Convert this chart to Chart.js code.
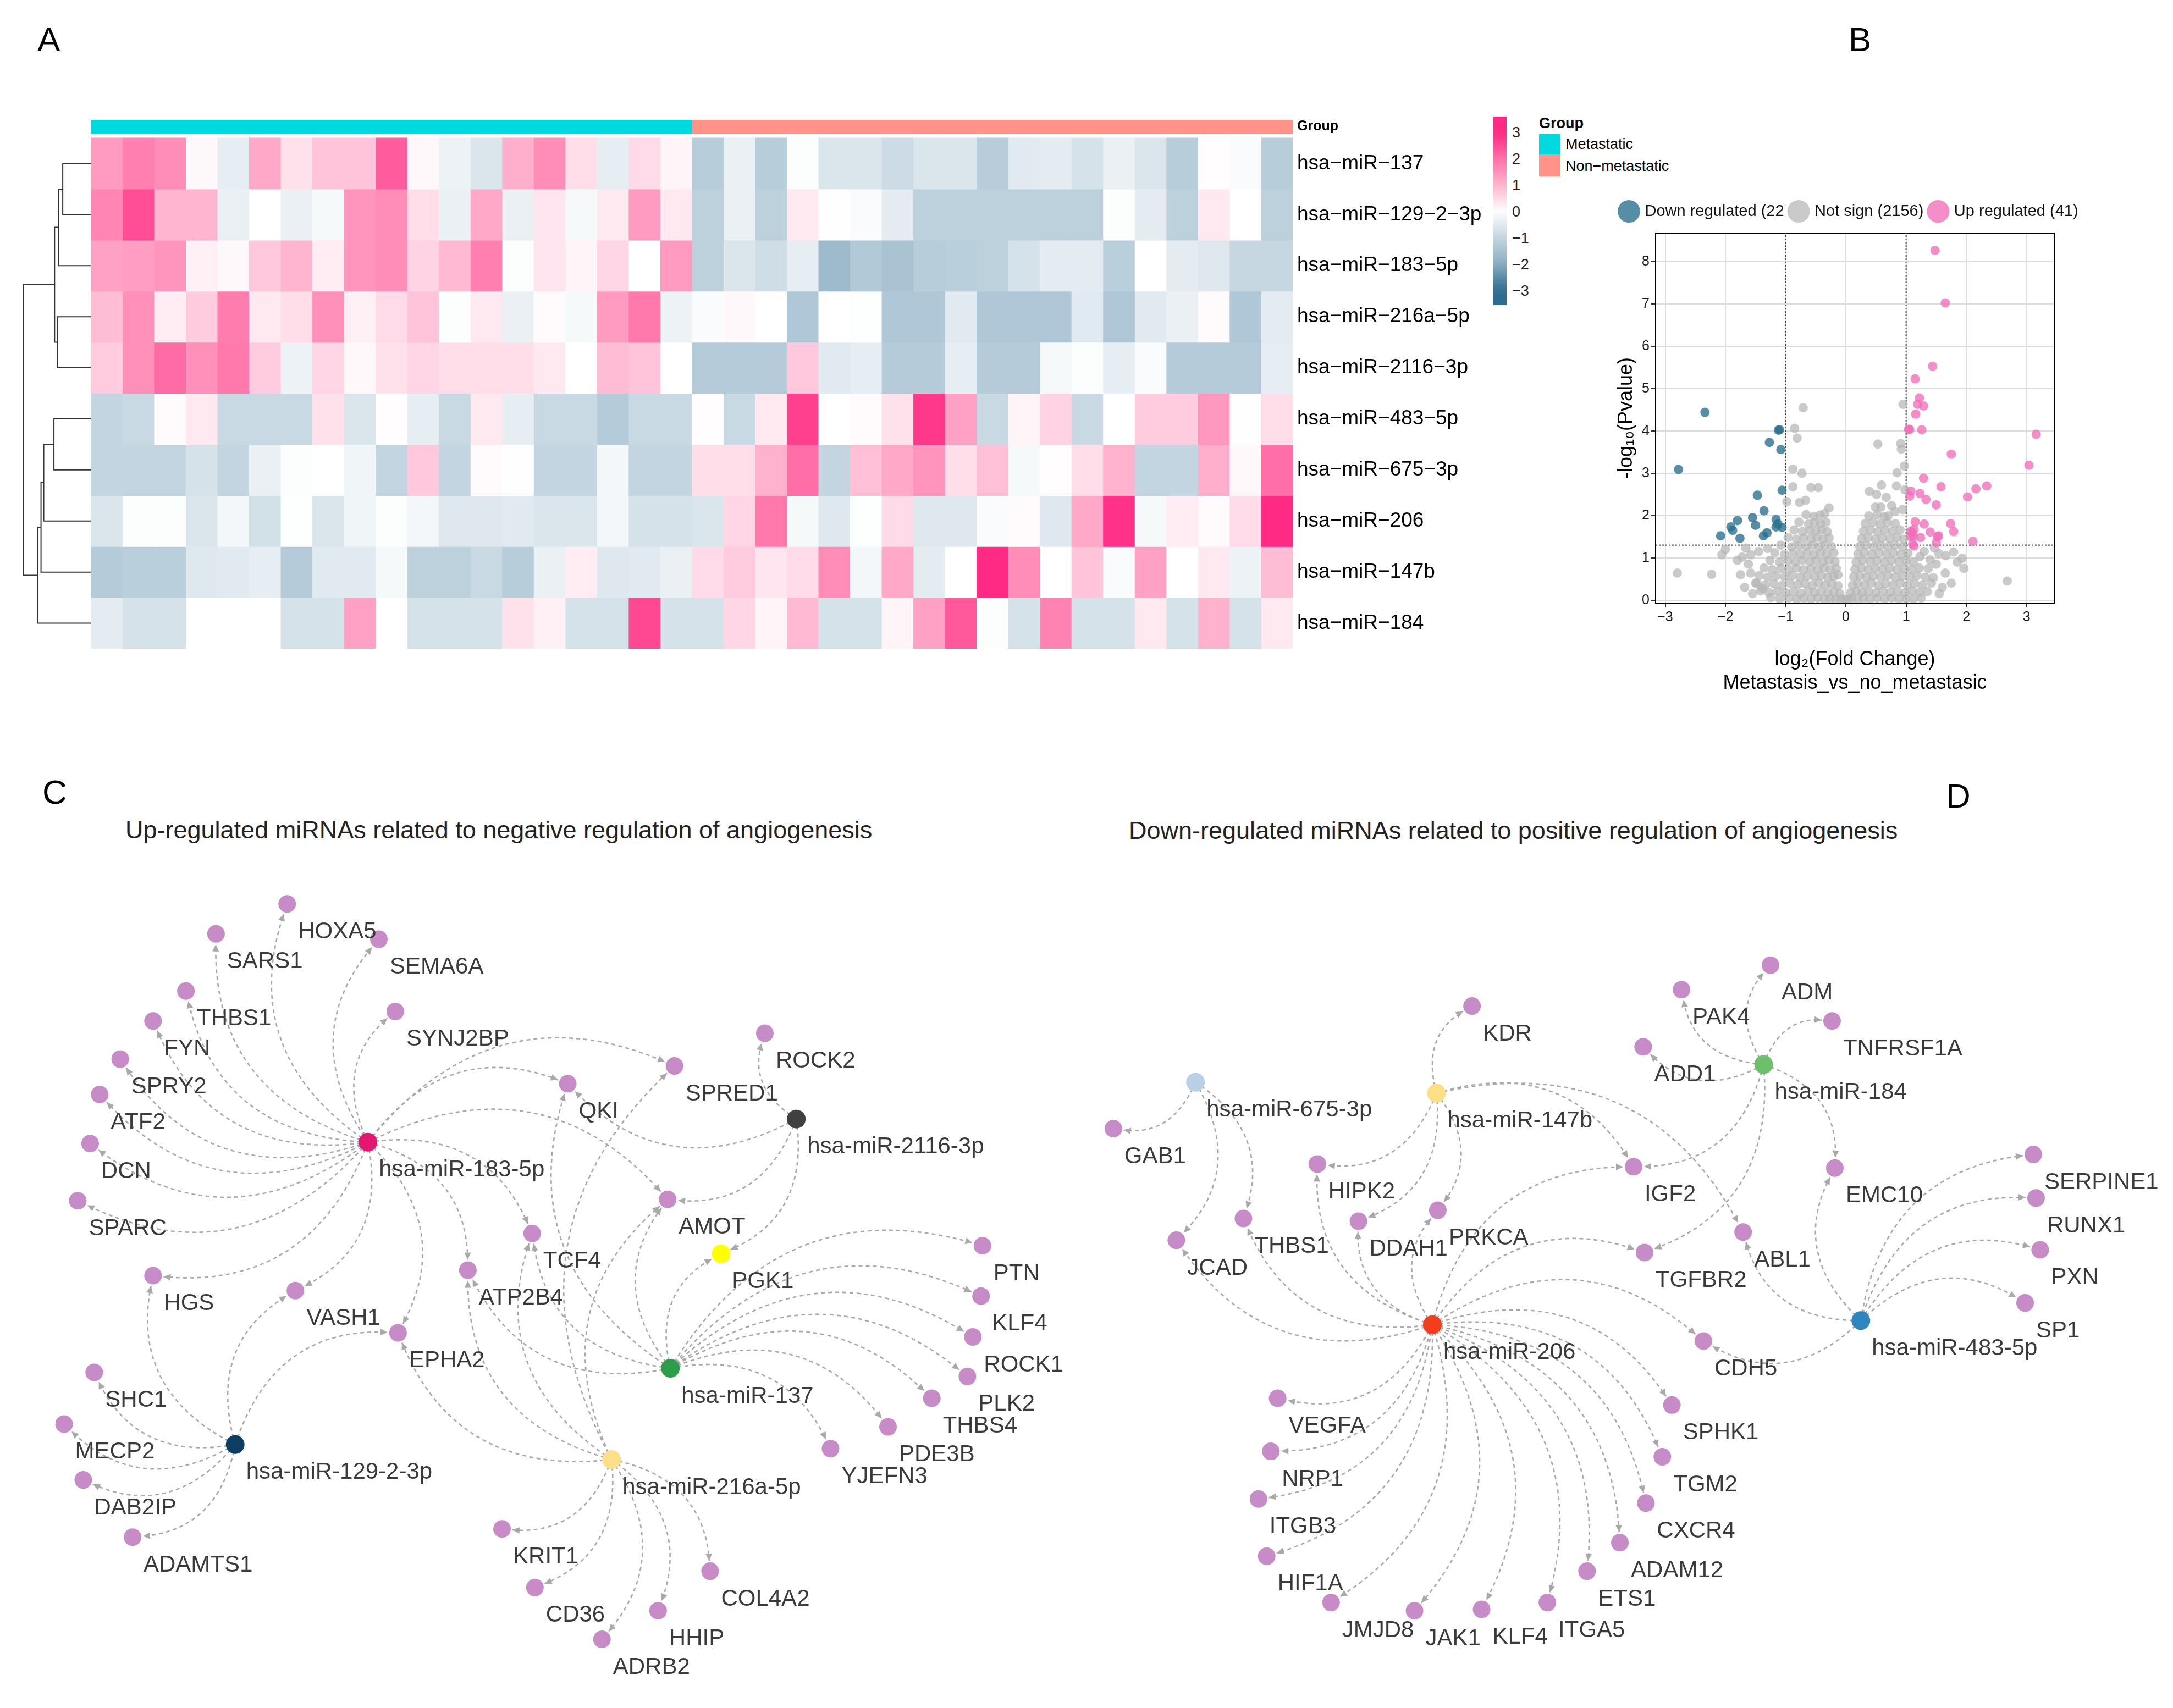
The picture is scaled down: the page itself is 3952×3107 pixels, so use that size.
<!DOCTYPE html>
<html>
<head>
<meta charset="utf-8">
<script src="https://cdn.jsdelivr.net/npm/chart.js@4.4.1/dist/chart.umd.min.js"></script>
<style>
  body { margin: 0; background: #fff; }
  #page { position: relative; width: 3952px; height: 3107px; overflow: hidden; background: #fff;
          font-family: "Liberation Sans", Arial, sans-serif; color: #000; }
  .txt { position: absolute; line-height: 1; white-space: nowrap; }
  canvas { position: absolute; }
</style>
</head>
<body>
<div id="page">
  <div class="txt" style="left:68px;top:41px;font-size:62px">A</div>
  <div class="txt" style="left:3362px;top:41px;font-size:62px">B</div>
  <div class="txt" style="left:77px;top:1410px;font-size:62px">C</div>
  <div class="txt" style="left:3539px;top:1417px;font-size:62px">D</div>

  <div class="txt" style="left:228px;top:1487px;font-size:45px;color:#222">Up-regulated miRNAs related to negative regulation of angiogenesis</div>
  <div class="txt" style="left:2053px;top:1488px;font-size:45px;color:#222">Down-regulated miRNAs related to positive regulation of angiogenesis</div>

  <canvas id="dendro" width="126" height="929" style="left:40px;top:251px;width:126px;height:929px"></canvas>
  <canvas id="heatmap" width="2546" height="962" style="left:166px;top:218px;width:2546px;height:962px"></canvas>

  <div id="colorbar" style="position:absolute;left:2716px;top:212px;width:24px;height:343px"></div>
  <div id="colorbarTicks"></div>

  <div class="txt" style="left:2799px;top:211px;font-size:27px;font-weight:bold">Group</div>
  <div style="position:absolute;left:2799px;top:244px;width:39px;height:37px;background:#00D9E0"></div>
  <div style="position:absolute;left:2799px;top:281px;width:39px;height:40px;background:#FF9389"></div>
  <div class="txt" style="left:2847px;top:249px;font-size:27px">Metastatic</div>
  <div class="txt" style="left:2847px;top:289px;font-size:27px">Non−metastatic</div>

  <canvas id="volcano" width="986" height="940" style="left:2914px;top:340px;width:986px;height:940px"></canvas>

  <canvas id="netC" width="1960" height="1547" style="left:0px;top:1560px;width:1960px;height:1547px"></canvas>
  <canvas id="netD" width="1992" height="1547" style="left:1960px;top:1560px;width:1992px;height:1547px"></canvas>
</div>

<script>
// ---------- A: heatmap ----------
const rowNames = ['hsa−miR−137', 'hsa−miR−129−2−3p', 'hsa−miR−183−5p', 'hsa−miR−216a−5p', 'hsa−miR−2116−3p',
                  'hsa−miR−483−5p', 'hsa−miR−675−3p', 'hsa−miR−206', 'hsa−miR−147b', 'hsa−miR−184'];
const sampleGroups = Array(19).fill('Metastatic').concat(Array(19).fill('Non−metastatic'));
const groupColors = { 'Metastatic': '#00D9E0', 'Non−metastatic': '#FF9389' };

// z-scores per row, 19 metastatic then 19 non-metastatic samples
const z137  = [1.4,1.8,1.6,0.1,-0.4,1.2,0.4,0.8,0.8,2.3,0.1,-0.3,-0.6,1.1,1.6,0.45,-0.4,0.5,0.15,
               -1.2,-0.35,-1.2,-0.05,-0.6,-0.6,-0.85,-0.6,-0.6,-1.2,-0.5,-0.45,-0.7,-0.35,-0.6,-1.2,0.03,-0.1,-1.2];
const z129  = [1.7,2.5,1.0,1.0,-0.35,0,-0.35,-0.15,1.5,1.6,0.45,-0.35,1.2,-0.35,0.35,-0.15,0.3,1.4,0.3,
               -1.1,-0.35,-1.1,0.3,0.02,-0.1,-0.45,-1.1,-1.1,-1.1,-1.1,-1.1,-1.1,-0.05,-0.45,-1.1,0.3,0,-1.1];
const z183  = [1.3,1.35,1.5,0.2,0.1,0.75,1.0,0.25,1.5,1.6,0.6,0.95,1.8,-0.05,0.35,0.15,0.55,0,1.4,
               -1.1,-0.6,-0.8,-0.4,-1.65,-1.3,-1.45,-1.2,-1.15,-1.1,-0.7,-0.45,-0.45,-1.15,0,-0.45,-0.55,-0.95,-0.95];
const z216a = [0.9,1.55,0.25,0.7,1.85,0.3,0.45,1.55,0.2,0.5,0.8,-0.05,0.3,-0.35,0.05,-0.15,1.4,1.9,-0.3,
               -0.1,0.1,0,-1.35,0,-0.03,-1.35,-1.35,-0.5,-1.35,-1.35,-1.35,-0.5,-1.35,-0.5,-0.35,0.07,-1.35,-0.45];
const z2116 = [0.7,1.55,2.1,1.55,1.9,0.7,-0.3,0.55,0.1,0.4,0.55,0.45,0.45,0.45,0.3,0,0.9,0.8,0,
               -1.25,-1.25,-1.25,0.75,-0.5,-0.4,-1.25,-1.25,-0.4,-1.25,-1.25,-0.15,-0.05,-0.4,-0.1,-1.25,-1.25,-1.25,-0.4];
const z483  = [-1.0,-0.9,0.05,0.3,-0.9,-0.9,-0.9,0.4,-0.6,0.03,-0.4,-0.9,0.3,-0.4,-0.9,-0.9,-1.25,-0.9,-0.9,
               0.03,-0.9,0.3,2.7,0,0.05,0.4,2.8,1.3,-0.9,0.15,0.6,-0.9,0,0.7,0.7,1.45,0.02,0.45];
const z675  = [-1.0,-1.0,-1.0,-0.7,-1.0,-0.35,-0.05,0,-0.25,-1.0,0.75,-1.0,0.05,0.02,-1.0,-1.0,-0.2,-1.0,-1.0,
               0.45,0.45,1.05,2.05,-1.0,0.85,1.2,1.5,0.45,0.85,-0.15,0.03,0.45,1.05,-1.0,-1.0,1.1,0.1,2.05];
const z206  = [-0.6,-0.05,-0.05,-0.6,-0.2,-0.75,-0.03,-0.6,-0.25,-0.05,-0.2,-0.55,-0.55,-0.5,-0.6,-0.6,-0.2,-0.7,-0.7,
               -0.6,0.55,1.9,-0.15,-0.55,-0.03,0.5,-0.55,-0.55,-0.1,0.05,-0.55,1.2,2.9,-0.15,0.25,0.07,0.5,3.2];
const z147b = [-1.25,-1.15,-1.15,-0.55,-0.5,-0.4,-1.25,-0.5,-0.5,-0.15,-1.1,-1.1,-0.9,-1.2,-0.35,0.25,-0.55,-0.5,-0.35,
               0.5,0.7,0.35,0.5,1.6,-0.2,1.2,-0.45,0,3.0,1.6,0,0.8,-0.1,1.3,0,0.3,-0.3,0.9];
const z184  = [-0.45,-0.7,-0.7,0,0,0,-0.7,-0.7,1.3,0,-0.7,-0.7,-0.7,0.4,0.2,-0.7,-0.7,2.6,-0.7,
               -0.7,0.55,0.15,0.95,-0.7,-0.7,0.15,1.3,2.35,-0.05,-0.7,1.75,-0.7,-0.7,0.3,-0.7,1.05,-0.7,0.3];
const zRows = [z137, z129, z183, z216a, z2116, z483, z675, z206, z147b, z184];

// hclust-style merges: negative = leaf row (1-based), positive = earlier merge
const dendroMerges  = [[-1,-2],[1,-3],[-4,-5],[2,3],[-6,-7],[5,-8],[6,-9],[7,-10],[4,8]];
const dendroHeights = [0.42, 0.48, 0.50, 0.54, 0.55, 0.70, 0.74, 0.79, 1.0];

const colorbarTicks = [3, 2, 1, 0, -1, -2, -3];

// ---------- B: volcano ----------
const downPts = [[-2.34,4.44],[-2.78,3.09],[-1.10,4.03],[-1.12,4.02],[-1.27,3.73],[-1.08,3.56],[-1.47,2.48],
  [-1.06,2.60],[-1.36,2.11],[-1.55,1.95],[-1.50,1.77],[-1.16,1.91],[-1.16,1.73],[-1.06,1.72],[-1.80,1.88],
  [-1.91,1.73],[-1.88,1.65],[-2.08,1.52],[-1.76,1.46],[-1.37,1.52],[-1.31,1.59],[-1.13,1.80]];
const upPts = [[1.48,8.27],[1.65,7.03],[1.44,5.53],[1.15,5.23],[1.22,4.78],[1.19,4.63],[1.29,4.59],[1.16,4.40],
  [1.04,4.04],[1.06,4.04],[1.26,4.03],[3.16,3.92],[1.75,3.45],[3.04,3.19],[1.29,2.88],[2.34,2.70],[1.58,2.68],
  [2.16,2.63],[1.08,2.58],[1.06,2.46],[1.23,2.52],[1.33,2.38],[2.02,2.44],[1.50,2.25],[1.15,1.85],[1.30,1.80],
  [1.74,1.81],[1.79,1.62],[1.40,1.61],[1.08,1.63],[1.13,1.67],[1.12,1.50],[1.24,1.48],[1.54,1.52],[1.52,1.50],
  [1.11,1.32],[1.13,1.28],[1.50,1.36],[2.11,1.39],[1.10,1.58],[1.08,1.50]];
const notSigPts = [
  // scattered upper points
  [-0.71,4.55],[-0.85,4.06],[-0.81,3.83],[-0.88,3.10],[-0.73,3.00],[-0.88,2.68],[-0.58,2.66],[-0.46,2.66],
  [-0.98,2.33],[-0.77,2.31],[-0.67,2.36],[-0.28,2.18],[-0.35,2.05],
  [0.95,4.63],[0.53,3.69],[0.91,3.70],[0.92,3.57],[0.97,3.17],[0.85,3.01],[0.59,2.72],[0.84,2.70],[0.98,2.61],
  [0.39,2.57],[0.51,2.50],[0.67,2.43],[0.76,2.23],[0.49,2.20],[0.58,2.20],[0.94,2.14],[0.70,1.99],[0.81,2.09],
  // scattered side points
  [-2.80,0.64],[-2.23,0.61],[-2.06,1.07],[-2.00,1.20],[-1.80,0.94],[-1.66,1.23],[-1.58,1.07],[-1.58,0.64],
  [-1.50,0.40],[-1.38,0.27],[-1.72,1.02],[-1.45,1.15],[-1.30,1.22],[-1.62,0.85],[-1.75,0.60],[-1.68,0.30],[-1.55,0.15],
  [1.65,0.64],[1.96,0.75],[1.93,0.99],[1.79,1.14],[1.66,1.05],[1.45,0.53],[1.54,1.10],[1.47,1.23],[1.23,1.03],
  [1.37,0.75],[2.68,0.45],[1.50,0.85],[1.60,0.30],[1.55,0.15],[1.40,0.95],[1.30,1.15],[1.75,0.40],[1.85,0.90],
  // left lobe
  [-1.25,0.06],[-1.1,0.03],[-0.95,0.05],[-0.82,0.02],[-0.7,0.04],[-0.58,0.02],[-0.47,0.05],[-0.36,0.02],[-0.26,0.04],[-0.17,0.02],[-0.08,0.03],[-0.02,0.01],
  [-1.42,0.22],[-1.28,0.18],[-1.14,0.21],[-1.0,0.17],[-0.87,0.2],[-0.75,0.16],[-0.63,0.21],[-0.52,0.18],[-0.41,0.2],[-0.3,0.17],[-0.2,0.19],[-0.1,0.15],
  [-1.48,0.4],[-1.34,0.36],[-1.2,0.39],[-1.06,0.35],[-0.93,0.4],[-0.8,0.37],[-0.68,0.39],[-0.56,0.35],[-0.45,0.4],[-0.34,0.36],[-0.23,0.38],[-0.13,0.34],
  [-1.44,0.58],[-1.3,0.54],[-1.16,0.57],[-1.02,0.55],[-0.89,0.58],[-0.76,0.54],[-0.64,0.57],[-0.52,0.55],[-0.41,0.58],[-0.3,0.54],[-0.2,0.56],[-0.13,0.6],
  [-1.36,0.76],[-1.22,0.72],[-1.08,0.75],[-0.95,0.73],[-0.82,0.76],[-0.7,0.72],[-0.58,0.75],[-0.47,0.73],[-0.36,0.76],[-0.26,0.72],[-0.16,0.75],
  [-1.26,0.94],[-1.1,0.9],[-0.96,0.93],[-0.84,0.9],[-0.72,0.94],[-0.6,0.91],[-0.49,0.93],[-0.38,0.9],[-0.28,0.94],[-0.18,0.91],
  [-1.18,1.12],[-1.02,1.08],[-0.88,1.11],[-0.76,1.09],[-0.64,1.12],[-0.53,1.08],[-0.42,1.11],[-0.32,1.09],[-0.2,1.12],
  [-1.08,1.3],[-0.9,1.26],[-0.78,1.29],[-0.66,1.27],[-0.55,1.3],[-0.45,1.26],[-0.35,1.29],[-0.24,1.27],
  [-0.96,1.48],[-0.82,1.44],[-0.7,1.47],[-0.58,1.45],[-0.48,1.48],[-0.38,1.44],[-0.28,1.47],
  [-0.86,1.66],[-0.72,1.62],[-0.6,1.65],[-0.5,1.63],[-0.4,1.66],[-0.31,1.62],
  [-0.78,1.84],[-0.62,1.8],[-0.52,1.83],[-0.42,1.81],[-0.33,1.84],
  [-0.66,2.02],[-0.53,1.98],[-0.43,2.01],
  // right lobe
  [0.03,0.02],[0.1,0.05],[0.19,0.02],[0.29,0.04],[0.4,0.02],[0.52,0.05],[0.64,0.03],[0.76,0.05],[0.88,0.02],[1.0,0.04],[1.12,0.02],[1.25,0.05],
  [0.08,0.17],[0.17,0.21],[0.27,0.18],[0.38,0.2],[0.5,0.17],[0.62,0.21],[0.74,0.18],[0.86,0.2],[0.98,0.17],[1.1,0.21],[1.22,0.18],[1.35,0.2],
  [0.11,0.35],[0.2,0.39],[0.31,0.36],[0.42,0.4],[0.54,0.35],[0.66,0.39],[0.78,0.36],[0.9,0.4],[1.02,0.35],[1.14,0.39],[1.27,0.36],[1.42,0.4],
  [0.13,0.55],[0.23,0.58],[0.34,0.54],[0.46,0.57],[0.58,0.55],[0.7,0.58],[0.82,0.54],[0.94,0.57],[1.06,0.55],[1.18,0.58],[1.32,0.54],
  [0.15,0.73],[0.26,0.76],[0.37,0.72],[0.49,0.75],[0.61,0.73],[0.73,0.76],[0.85,0.72],[0.97,0.75],[1.09,0.73],[1.22,0.76],
  [0.17,0.9],[0.28,0.94],[0.4,0.91],[0.52,0.93],[0.64,0.9],[0.76,0.94],[0.88,0.91],[1.0,0.93],[1.12,0.9],
  [0.2,1.09],[0.31,1.12],[0.43,1.08],[0.55,1.11],[0.67,1.09],[0.79,1.12],[0.91,1.08],[1.03,1.11],
  [0.23,1.27],[0.34,1.3],[0.46,1.26],[0.58,1.29],[0.7,1.27],[0.82,1.3],[0.94,1.26],
  [0.26,1.45],[0.37,1.48],[0.49,1.44],[0.61,1.47],[0.73,1.45],[0.85,1.48],[0.96,1.44],
  [0.29,1.63],[0.41,1.66],[0.53,1.62],[0.65,1.65],[0.77,1.63],[0.9,1.66],
  [0.32,1.81],[0.45,1.84],[0.57,1.8],[0.69,1.83],[0.82,1.81],
  [0.38,1.99],[0.52,2.02],[0.64,1.98]
];
const legendLabels = ['Down regulated (22', 'Not sign (2156)', 'Up regulated (41)'];
const fcCut = 1;
const pCut = 1.3;

// ---------- C / D: networks (layout units) ----------
const cNodes = ['hsa-miR-183-5p','hsa-miR-2116-3p','hsa-miR-137','hsa-miR-216a-5p','hsa-miR-129-2-3p','PGK1',
  'HOXA5','SARS1','SEMA6A','THBS1','SYNJ2BP','FYN','SPRY2','ATF2','DCN','SPARC',
  'QKI','SPRED1','ROCK2','AMOT','TCF4','ATP2B4','HGS','VASH1','EPHA2',
  'PTN','KLF4','ROCK1','PLK2','THBS4','PDE3B','YJEFN3','SHC1','MECP2','DAB2IP','ADAMTS1',
  'KRIT1','CD36','ADRB2','HHIP','COL4A2'];
const cNodeX = [262,575,483,440,165,520, 203,151,270,129,282,105,81,66,59,50, 408,486,552,481,382,335,105,209,284,
  711,710,704,700,674,642,600,62,40,54,90, 360,384,433,474,512];
const cNodeY = [818,801,984,1051,1040,900, 643,665,669,707,722,729,757,783,819,861, 775,762,738,860,885,912,916,927,958,
  894,931,961,990,1006,1027,1043,987,1025,1066,1108, 1102,1145,1183,1162,1133];
const cEdges = [
  ['hsa-miR-183-5p', ['HOXA5','SARS1','SEMA6A','THBS1','SYNJ2BP','FYN','SPRY2','ATF2','DCN','SPARC','QKI','SPRED1','AMOT','TCF4','ATP2B4','EPHA2','VASH1','HGS']],
  ['hsa-miR-2116-3p', ['ROCK2','QKI','AMOT','PGK1']],
  ['hsa-miR-137', ['PGK1','PTN','KLF4','ROCK1','PLK2','THBS4','PDE3B','YJEFN3','AMOT','TCF4','ATP2B4','QKI']],
  ['hsa-miR-216a-5p', ['KRIT1','CD36','ADRB2','HHIP','COL4A2','EPHA2','ATP2B4','TCF4','AMOT','SPRED1']],
  ['hsa-miR-129-2-3p', ['SHC1','MECP2','DAB2IP','ADAMTS1','HGS','VASH1','EPHA2']]
];

const dNodes = ['hsa-miR-675-3p','hsa-miR-147b','hsa-miR-184','hsa-miR-206','hsa-miR-483-5p',
  'GAB1','JCAD','THBS1','HIPK2','DDAH1','PRKCA','KDR','PAK4','ADM','TNFRSF1A','ADD1','IGF2','EMC10','ABL1','TGFBR2',
  'SERPINE1','RUNX1','PXN','SP1','CDH5','SPHK1','TGM2','CXCR4','ADAM12','ETS1','ITGA5','KLF4','JAK1','JMJD8',
  'HIF1A','ITGB3','NRP1','VEGFA'];
const dNodeX = [853,1029,1268,1026,1339, 793,839,888,942,972,1030,1055,1208,1273,1318,1180,1173,1320,1253,1181,
  1465,1467,1470,1459,1224,1201,1194,1182,1163,1139,1110,1062,1013,952, 905,899,908,913];
const dNodeY = [774,782,761,952,949, 808,890,874,834,876,868,718,706,688,729,748,836,837,884,899,
  827,859,897,936,964,1011,1049,1083,1112,1133,1156,1161,1162,1156, 1122,1080,1045,1006];
const dEdges = [
  ['hsa-miR-675-3p', ['GAB1','JCAD','THBS1']],
  ['hsa-miR-147b', ['KDR','HIPK2','DDAH1','PRKCA','IGF2','ABL1']],
  ['hsa-miR-184', ['PAK4','ADM','TNFRSF1A','ADD1','IGF2','TGFBR2','EMC10']],
  ['hsa-miR-206', ['JCAD','THBS1','HIPK2','DDAH1','PRKCA','IGF2','TGFBR2','CDH5','SPHK1','TGM2','CXCR4','ADAM12',
                   'ETS1','ITGA5','KLF4','JAK1','JMJD8','HIF1A','ITGB3','NRP1','VEGFA']],
  ['hsa-miR-483-5p', ['ABL1','EMC10','CDH5','SERPINE1','RUNX1','PXN','SP1']]
];

const nodeColors = {
  'hsa-miR-183-5p': '#E3176F', 'hsa-miR-2116-3p': '#404040', 'hsa-miR-137': '#2E9D4A',
  'hsa-miR-216a-5p': '#FDDF8A', 'hsa-miR-129-2-3p': '#0D3D62', 'PGK1': '#FFFF00',
  'hsa-miR-675-3p': '#B9D0E6', 'hsa-miR-147b': '#FDDF85', 'hsa-miR-184': '#6CC06C',
  'hsa-miR-206': '#F23E1C', 'hsa-miR-483-5p': '#2F86BE'
};
const targetColor = '#C78CC8';

// ======================================================
const FONT = '"Liberation Sans", Arial, sans-serif';
Chart.defaults.font.family = FONT;
Chart.defaults.animation = false;

// colour scale of the heatmap
const negStops = [[255,255,255],[195,213,224],[138,173,194],[47,108,145]];
const posStops = [[255,255,255],[255,181,208],[255,114,168],[255,42,132]];
function zColor(v) {
  const stops = v < 0 ? negStops : posStops;
  const a = Math.min(Math.abs(v), 3);
  const i = Math.min(Math.floor(a), 2);
  const t = a - i;
  const c = stops[i].map((c0, k) => Math.round(c0 + (stops[i+1][k] - c0) * t));
  return `rgb(${c[0]},${c[1]},${c[2]})`;
}

// colorbar legend
(function() {
  const bar = document.getElementById('colorbar');
  const top = 3.61, bottom = -3.55, stops = [];
  for (let k = 0; k <= 20; k++) {
    const v = top - (top - bottom) * k / 20;
    stops.push(`${zColor(v)} ${(k * 5)}%`);
  }
  bar.style.background = `linear-gradient(to bottom, ${stops.join(',')})`;
  const holder = document.getElementById('colorbarTicks');
  colorbarTicks.forEach(v => {
    const d = document.createElement('div');
    d.className = 'txt';
    d.style.cssText = `left:2750px;top:${385 - 47.9 * v - 13}px;font-size:27px;color:#222`;
    d.textContent = String(v).replace('-', '−');
    holder.appendChild(d);
  });
})();

// heatmap as floating bars
const sampleIds = sampleGroups.map((g, i) => 'S' + (i + 1));
const heatDatasets = zRows.map((row, r) => ({
  data: row.map(() => [r, r + 1]),
  backgroundColor: row.map(zColor),
  borderWidth: 0, inflateAmount: 0.6, grouped: false,
  barPercentage: 1, categoryPercentage: 1
}));
heatDatasets.push({
  data: sampleGroups.map(() => [-0.355, -0.086]),
  backgroundColor: sampleGroups.map(g => groupColors[g]),
  borderWidth: 0, inflateAmount: 0.6, grouped: false,
  barPercentage: 1, categoryPercentage: 1
});

new Chart(document.getElementById('heatmap'), {
  type: 'bar',
  data: { labels: sampleIds, datasets: heatDatasets },
  options: {
    responsive: false, devicePixelRatio: 1,
    layout: { padding: 0 },
    plugins: { legend: { display: false }, tooltip: { enabled: false } },
    scales: {
      x: { display: false },
      y: {
        type: 'linear', position: 'right', reverse: true, min: -0.355, max: 10,
        grid: { display: false, drawTicks: false }, border: { display: false },
        afterBuildTicks: axis => {
          axis.ticks = [{ value: -0.226 }].concat(rowNames.map((n, i) => ({ value: i + 0.5 })));
        },
        afterFit: axis => { axis.width = 360; axis.paddingTop = 0; axis.paddingBottom = 0; },
        ticks: {
          autoSkip: false, padding: 7, color: '#000',
          callback: (v, i) => i === 0 ? 'Group' : rowNames[i - 1],
          font: ctx => ctx.index === 0 ? { size: 25, weight: 'bold' } : { size: 37 }
        }
      }
    }
  }
});

// dendrogram
(function() {
  const nodeY = [], nodeH = [];
  const pos = id => id < 0 ? { y: -id - 0.5, h: 0 } : { y: nodeY[id - 1], h: nodeH[id - 1] };
  const sets = dendroMerges.map((m, k) => {
    const a = pos(m[0]), b = pos(m[1]), h = dendroHeights[k];
    nodeY.push((a.y + b.y) / 2); nodeH.push(h);
    return {
      data: [{ x: a.h, y: a.y }, { x: h, y: a.y }, { x: h, y: b.y }, { x: b.h, y: b.y }],
      showLine: true, pointRadius: 0, borderColor: '#333', borderWidth: 2, tension: 0, clip: false
    };
  });
  new Chart(document.getElementById('dendro'), {
    type: 'scatter',
    data: { datasets: sets },
    options: {
      responsive: false, devicePixelRatio: 1, layout: { padding: 0 },
      plugins: { legend: { display: false }, tooltip: { enabled: false } },
      scales: {
        x: { display: false, min: 0, max: 1.02, reverse: true },
        y: { display: false, min: 0, max: 10, reverse: true }
      }
    }
  });
})();

// volcano
const toXY = pts => pts.map(p => ({ x: p[0], y: p[1] }));
const minus = v => String(v).replace('-', '−');
new Chart(document.getElementById('volcano'), {
  type: 'scatter',
  data: {
    datasets: [
      { label: legendLabels[0], data: toXY(downPts), backgroundColor: 'rgba(40,110,140,0.78)', borderWidth: 0, pointRadius: 8.5, order: 0 },
      { label: legendLabels[1], data: toXY(notSigPts), backgroundColor: 'rgba(182,182,182,0.72)', borderWidth: 0, pointRadius: 8.5, order: 2 },
      { label: legendLabels[2], data: toXY(upPts), backgroundColor: 'rgba(240,110,186,0.78)', borderWidth: 0, pointRadius: 8.5, order: 1 },
      { data: [{ x: -fcCut, y: -0.07 }, { x: -fcCut, y: 8.68 }], showLine: true, pointRadius: 0, borderColor: '#444', borderWidth: 2, borderDash: [3, 3], order: 3 },
      { data: [{ x: fcCut, y: -0.07 }, { x: fcCut, y: 8.68 }], showLine: true, pointRadius: 0, borderColor: '#444', borderWidth: 2, borderDash: [3, 3], order: 3 },
      { data: [{ x: -3.16, y: pCut }, { x: 3.46, y: pCut }], showLine: true, pointRadius: 0, borderColor: '#444', borderWidth: 2, borderDash: [3, 3], order: 3 }
    ]
  },
  options: {
    responsive: false, devicePixelRatio: 1,
    layout: { padding: { left: 22, right: 0, top: 18, bottom: 13 } },
    plugins: {
      tooltip: { enabled: false },
      legend: {
        position: 'top', align: 'start',
        labels: {
          usePointStyle: true, pointStyle: 'circle', boxWidth: 30, boxHeight: 30, padding: 12,
          font: { size: 29 }, color: '#111',
          filter: item => item.datasetIndex < 3,
          sort: (a, b) => a.datasetIndex - b.datasetIndex
        }
      }
    },
    scales: {
      x: {
        type: 'linear', min: -3.16, max: 3.46,
        ticks: { stepSize: 1, includeBounds: false, font: { size: 25 }, color: '#1a1a1a', callback: minus },
        grid: { color: '#DDDDDD', lineWidth: 2, tickColor: '#333', tickLength: 8 },
        border: { color: '#000', width: 2 },
        title: { display: true, text: ['log₂(Fold Change)', 'Metastasis_vs_no_metastasic'], font: { size: 36 }, color: '#000', padding: { top: 4, bottom: 2 } },
        afterFit: axis => { axis.height = 170; }
      },
      y: {
        type: 'linear', min: -0.07, max: 8.68,
        ticks: { stepSize: 1, includeBounds: false, font: { size: 25 }, color: '#1a1a1a', callback: minus },
        grid: { color: '#DDDDDD', lineWidth: 2, tickColor: '#333', tickLength: 8 },
        border: { color: '#000', width: 2 },
        title: { display: true, text: '-log₁₀(Pvalue)', font: { size: 36 }, color: '#000', padding: 0 },
        afterFit: axis => { axis.width = 75; }
      },
      x2: {
        type: 'linear', position: 'top', min: 0, max: 1,
        ticks: { display: false }, grid: { display: false, drawTicks: false },
        border: { color: '#000', width: 2 },
        afterFit: axis => { axis.height = 15; }
      },
      y2: {
        type: 'linear', position: 'right', min: 0, max: 1,
        ticks: { display: false }, grid: { display: false, drawTicks: false },
        border: { color: '#000', width: 2 },
        afterFit: axis => { axis.width = 164; }
      }
    }
  }
});

// networks: scatter nodes + curved dashed edges drawn through the chart scales
const LAYOUT_PX = 2.533; // canvas pixels per layout unit
const networkPlugin = {
  id: 'network',
  beforeDatasetsDraw(chart, args, opts) {
    const { ctx, scales: { x, y } } = chart;
    const px = i => x.getPixelForValue(opts.xs[i]);
    const py = i => y.getPixelForValue(opts.ys[i]);
    ctx.save();
    ctx.strokeStyle = '#A9A9A9';
    ctx.fillStyle = '#A9A9A9';
    ctx.lineWidth = 2.6;
    opts.edges.forEach(([src, targets]) => {
      const a = opts.names.indexOf(src);
      targets.forEach(t => {
        const b = opts.names.indexOf(t);
        const x1 = px(a), y1 = py(a), x2 = px(b), y2 = py(b);
        const dx = x2 - x1, dy = y2 - y1;
        const cx = (x1 + x2) / 2 + dy * 0.38, cy = (y1 + y2) / 2 - dx * 0.38;
        let tx = x2 - cx, ty = y2 - cy;
        const tl = Math.hypot(tx, ty); tx /= tl; ty /= tl;
        const ex = x2 - tx * 19, ey = y2 - ty * 19;
        ctx.setLineDash([7, 6]);
        ctx.beginPath(); ctx.moveTo(x1, y1); ctx.quadraticCurveTo(cx, cy, ex, ey); ctx.stroke();
        ctx.setLineDash([]);
        ctx.beginPath();
        ctx.moveTo(ex, ey);
        ctx.lineTo(ex - tx * 13 - ty * 6, ey - ty * 13 + tx * 6);
        ctx.lineTo(ex - tx * 13 + ty * 6, ey - ty * 13 - tx * 6);
        ctx.closePath(); ctx.fill();
      });
    });
    ctx.restore();
  },
  afterDatasetsDraw(chart, args, opts) {
    const { ctx, scales: { x, y } } = chart;
    ctx.save();
    ctx.font = '42px ' + FONT;
    ctx.fillStyle = '#3A3A3A';
    ctx.textBaseline = 'middle';
    opts.names.forEach((n, i) => {
      ctx.fillText(n, x.getPixelForValue(opts.xs[i]) + 20, y.getPixelForValue(opts.ys[i]) + 51);
    });
    ctx.restore();
  }
};

function makeNetwork(id, left, top, names, xs, ys, edges) {
  const cv = document.getElementById(id);
  new Chart(cv, {
    type: 'scatter',
    data: {
      datasets: [{
        data: xs.map((v, i) => ({ x: v, y: ys[i] })),
        pointBackgroundColor: names.map(n => nodeColors[n] || targetColor),
        pointRadius: names.map(n => nodeColors[n] ? 17 : 16),
        pointBorderWidth: 0
      }]
    },
    options: {
      responsive: false, devicePixelRatio: 1, layout: { padding: 0 },
      plugins: {
        legend: { display: false }, tooltip: { enabled: false },
        network: { names, xs, ys, edges }
      },
      scales: {
        x: { display: false, min: left / LAYOUT_PX, max: (left + cv.width) / LAYOUT_PX },
        y: { display: false, reverse: true, min: top / LAYOUT_PX, max: (top + cv.height) / LAYOUT_PX }
      }
    },
    plugins: [networkPlugin]
  });
}
makeNetwork('netC', 0, 1560, cNodes, cNodeX, cNodeY, cEdges);
makeNetwork('netD', 1960, 1560, dNodes, dNodeX, dNodeY, dEdges);
</script>
</body>
</html>
